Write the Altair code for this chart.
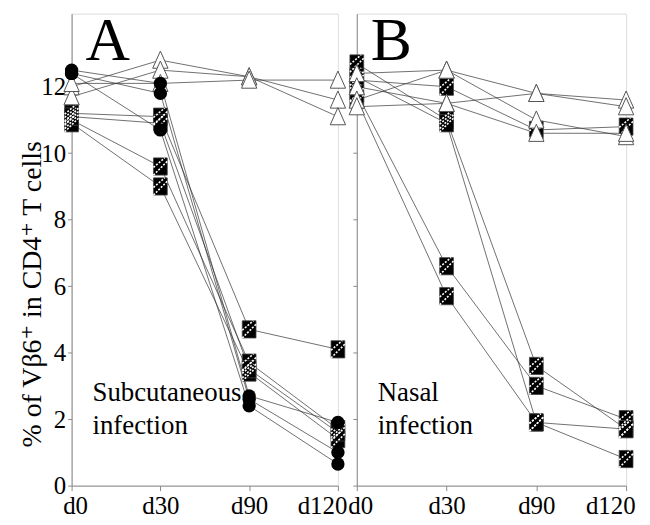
import altair as alt
import pandas as pd

days = ["d0", "d30", "d90", "d120"]

# Panel A (subcutaneous infection)
a_triangles = [
    [12.0, 12.8, 12.3, 11.6],
    [11.7, 12.5, 12.3, 11.1],
    [12.1, 12.1, 12.2, 12.2],
]
a_circles = [
    [12.5, 12.1, 2.7, 1.9],
    [12.4, 11.8, 2.6, 1.0],
    [12.4, 10.7, 2.4, 0.65],
]
a_squares = [
    [11.2, 11.1, 4.7, 4.1],
    [11.0, 9.6, 3.7, 1.7],
    [10.9, 9.0, 3.4, 1.4],
    [11.1, 10.9, 3.5, 1.6],
]

# Panel B (nasal infection)
b_triangles = [
    [12.4, 12.5, 11.8, 11.6],
    [12.0, 11.5, 11.8, 11.4],
    [11.6, 12.5, 11.0, 10.5],
    [11.4, 11.5, 10.6, 10.6],
]
b_circles = []
b_squares = [
    [12.2, 12.0, 10.7, 10.8],
    [12.7, 11.0, 3.6, 1.7],
    [12.3, 10.9, 1.9, 0.8],
    [11.8, 6.6, 3.0, 2.0],
    [11.6, 5.7, 1.9, 1.7],
]

y_ticks = [0, 2, 4, 6, 8, 10, 12]
y_title = "% of Vβ6⁺ in CD4⁺ T cells"

FONT = "Liberation Serif, Times New Roman, DejaVu Serif, serif"
GRAY = "#8a8a8a"

SQUARE_PATH = "M-0.8,-1L0.8,-1L0.8,1L-0.8,1Z"
STRIPE_PATH = "M-0.8,0.1L0.5,-1M-0.8,1L0.8,-0.6"
TRI_PATH = "M0,-1L0.85,0.9L-0.85,0.9Z"


def to_df(groups):
    rows = []
    for kind, series in groups:
        for i, vals in enumerate(series):
            for d, v in zip(days, vals):
                rows.append({"sid": f"{kind}{i}", "kind": kind, "day": d, "value": v})
    return pd.DataFrame(rows)


def panel(tri, circ, sq, letter, label, show_labels, w):
    df = to_df([("t", tri), ("c", circ), ("s", sq)])
    x = alt.X(
        "day:N",
        sort=days,
        scale=alt.Scale(type="point", padding=0),
        axis=alt.Axis(
            title=None,
            labelFont=FONT,
            labelFontSize=25,
            labelColor="black",
            labelAngle=0,
            labelPadding=3,
            tickSize=5,
            tickColor=GRAY,
            domainColor=GRAY,
            grid=False,
            labelFlush=True,
            labelFlushOffset=9,
        ),
    )
    y = alt.Y(
        "value:Q",
        scale=alt.Scale(domain=[0, 14.2], nice=False, zero=True),
        axis=alt.Axis(
            values=y_ticks,
            title=y_title if show_labels else None,
            labels=show_labels,
            labelFont=FONT,
            labelFontSize=25,
            labelColor="black",
            titleFont=FONT,
            titleFontSize=28,
            titleFontWeight="normal",
            titleColor="black",
            titlePadding=-5,
            titleY=282,
            minExtent=30 if show_labels else 4,
            maxExtent=30 if show_labels else 4,
            tickSize=4,
            tickColor=GRAY,
            domainColor=GRAY,
            grid=False,
            labelPadding=2,
        ),
    )
    base = alt.Chart(df).encode(x=x, y=y)
    lines = base.mark_line(color="#333333", strokeWidth=0.7).encode(detail="sid:N")
    layers = [lines]
    tdf = df[df.kind == "t"]
    sdf = df[df.kind == "s"]
    cdf = df[df.kind == "c"]
    if len(sdf):
        layers.append(
            alt.Chart(sdf).mark_point(
                shape=SQUARE_PATH, size=300, filled=True, fill="black",
                stroke="#444444", strokeWidth=0.8, opacity=1
            ).encode(x=x, y=y)
        )
        layers.append(
            alt.Chart(sdf).mark_point(
                shape=STRIPE_PATH, size=300, filled=False,
                stroke="white", strokeWidth=1.6, strokeDash=[2, 1.5], opacity=1
            ).encode(x=x, y=y)
        )
    if len(tdf):
        layers.append(
            alt.Chart(tdf).mark_point(
                shape=TRI_PATH, size=330, filled=True, fill="white",
                stroke="#555555", strokeWidth=1, opacity=1
            ).encode(x=x, y=y)
        )
    if len(cdf):
        layers.append(
            alt.Chart(cdf).mark_point(
                shape="circle", size=180, filled=True, color="black", opacity=1
            ).encode(x=x, y=y)
        )
    letter_df = pd.DataFrame({"t": [letter]})
    layers.append(
        alt.Chart(letter_df).mark_text(
            font=FONT, fontSize=62, align="left", baseline="alphabetic",
            color="black"
        ).encode(text="t:N", x=alt.value(14), y=alt.value(47))
    )
    lab_df = pd.DataFrame({"t": [label]})
    layers.append(
        alt.Chart(lab_df).mark_text(
            font=FONT, fontSize=27, align="left", baseline="alphabetic",
            color="black", lineHeight=33
        ).encode(text="t:N", x=alt.value(21), y=alt.value(390))
    )
    return alt.layer(*layers).properties(width=w, height=475)


pa = panel(a_triangles, a_circles, a_squares, "A", ["Subcutaneous", "infection"], True, 268)
pb = panel(b_triangles, b_circles, b_squares, "B", ["Nasal", "infection"], False, 271)

chart = (
    alt.hconcat(pa, pb, spacing=19, bounds="flush")
    .configure_view(stroke=GRAY, strokeWidth=1)
    .configure(background="white", padding={"left": 10, "top": 0, "right": 5, "bottom": 5})
)

chart.save("out.html", embed_options={"renderer": "svg", "actions": False})
